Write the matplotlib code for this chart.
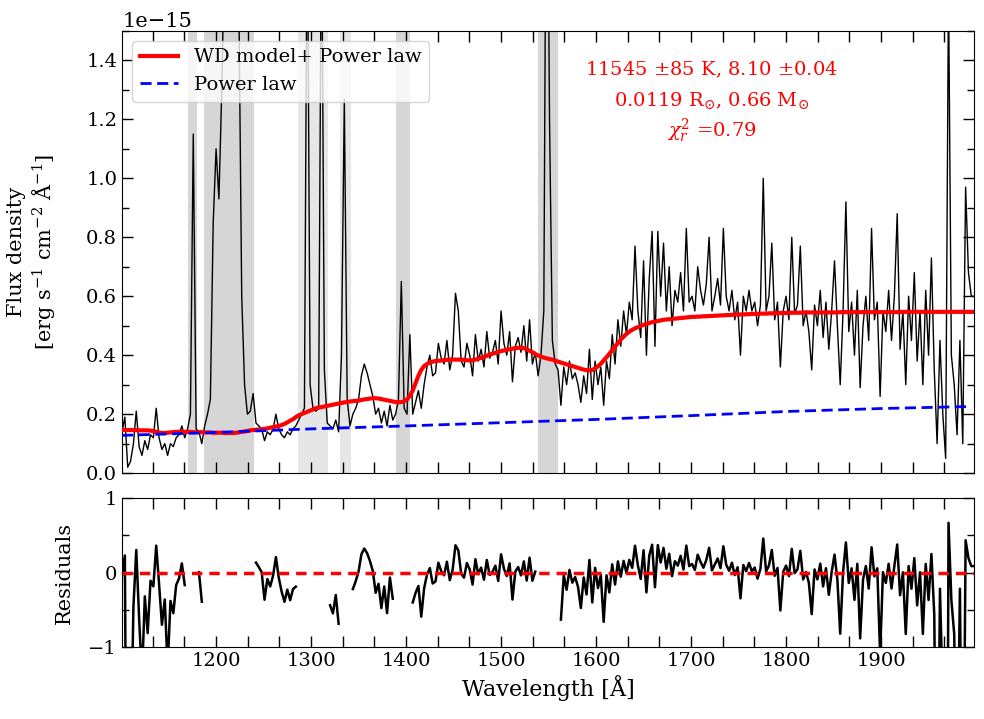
import numpy as np
import matplotlib
matplotlib.use("Agg")
import matplotlib.pyplot as plt
from matplotlib.ticker import MultipleLocator, AutoMinorLocator

plt.rcParams['font.family'] = ['DejaVu Serif']
plt.rcParams['mathtext.fontset'] = 'dejavuserif'

# wavelength grid (Angstrom), 3 A steps from 1101 to 1998
wave = np.arange(1101, 1999, 3)

# observed flux, units of 1e-15 erg/s/cm2/A
flux = [
    0.14, 0.19, 0.02, 0.04, 0.10, 0.21, 0.09, 0.06, 0.11, 0.08,   # 1101-1128
    0.13, 0.12, 0.22, 0.12, 0.08, 0.10, 0.06, 0.10, 0.09, 0.12,   # 1131-1158
    0.13, 0.16, 0.12, 0.15, 0.20, 1.15, 0.15, 0.14, 0.10, 0.16,   # 1161-1188
    0.20, 0.25, 0.85, 1.10, 0.93, 1.30, 1.80, 2.50, 3.00, 2.50,   # 1191-1218
    2.00, 1.60, 0.60, 0.30, 0.20, 0.21, 0.27, 0.17, 0.16, 0.15,   # 1221-1248
    0.11, 0.14, 0.13, 0.15, 0.20, 0.15, 0.13, 0.12, 0.14, 0.13,   # 1251-1278
    0.15, 0.16, 0.18, 0.20, 0.22, 2.00, 0.30, 0.22, 0.21, 0.22,   # 1281-1308
    2.00, 0.35, 0.17, 0.16, 0.15, 0.18, 0.14, 0.40, 1.27, 0.25,   # 1311-1338
    0.16, 0.20, 0.22, 0.25, 0.33, 0.37, 0.34, 0.30, 0.26, 0.20,   # 1341-1368
    0.22, 0.17, 0.21, 0.16, 0.23, 0.18, 0.20, 0.25, 0.65, 0.22,   # 1371-1398
    0.20, 0.47, 0.20, 0.24, 0.28, 0.22, 0.30, 0.36, 0.40, 0.33,   # 1401-1428
    0.34, 0.44, 0.39, 0.37, 0.45, 0.35, 0.40, 0.61, 0.55, 0.38,   # 1431-1458
    0.36, 0.44, 0.40, 0.33, 0.47, 0.38, 0.42, 0.36, 0.48, 0.39,   # 1461-1488
    0.41, 0.45, 0.37, 0.55, 0.44, 0.40, 0.48, 0.31, 0.43, 0.46,   # 1491-1518
    0.41, 0.50, 0.38, 0.52, 0.37, 0.41, 0.33, 0.40, 0.55, 2.50,   # 1521-1548
    1.20, 0.45, 0.37, 0.35, 0.23, 0.36, 0.30, 0.38, 0.32, 0.34,   # 1551-1578
    0.30, 0.24, 0.33, 0.27, 0.42, 0.25, 0.38, 0.30, 0.36, 0.23,   # 1581-1608
    0.38, 0.32, 0.47, 0.37, 0.52, 0.43, 0.55, 0.47, 0.58, 0.52,   # 1611-1638
    0.77, 0.55, 0.46, 0.72, 0.40, 0.66, 0.82, 0.43, 0.82, 0.60,   # 1641-1668
    0.78, 0.55, 0.70, 0.50, 0.62, 0.58, 0.68, 0.55, 0.83, 0.58,   # 1671-1698
    0.60, 0.55, 0.70, 0.62, 0.57, 0.64, 0.80, 0.55, 0.60, 0.66,   # 1701-1728
    0.57, 0.83, 0.60, 0.55, 0.62, 0.52, 0.58, 0.40, 0.60, 0.55,   # 1731-1758
    0.62, 0.55, 0.58, 0.50, 0.57, 1.00, 0.55, 0.60, 0.78, 0.52,   # 1761-1788
    0.58, 0.36, 0.55, 0.60, 0.52, 0.80, 0.54, 0.57, 0.77, 0.50,   # 1791-1818
    0.55, 0.48, 0.35, 0.57, 0.50, 0.62, 0.46, 0.58, 0.42, 0.55,   # 1821-1848
    0.72, 0.50, 0.30, 0.55, 0.92, 0.48, 0.58, 0.40, 0.62, 0.29,   # 1851-1878
    0.50, 0.60, 0.45, 0.83, 0.52, 0.58, 0.26, 0.55, 0.48, 0.62,   # 1881-1908
    0.45, 0.60, 0.88, 0.42, 0.55, 0.30, 0.60, 0.45, 0.68, 0.38,   # 1911-1938
    0.55, 0.30, 0.62, 0.40, 0.73, 0.35, 0.10, 0.45, 0.20, 0.05,   # 1941-1968
    1.66, 0.40, 0.30, 0.13, 0.45, 0.10, 0.97, 0.68, 0.60, 0.60,   # 1971-1998
]

# WD model + power law, same grid, units of 1e-15
model = [
    0.146, 0.146, 0.146, 0.146, 0.146, 0.146, 0.145, 0.145, 0.145, 0.145,
    0.144, 0.142, 0.140, 0.138, 0.136, 0.136, 0.137, 0.138, 0.139, 0.140,
    0.140, 0.140, 0.140, 0.140, 0.140, 0.139, 0.139, 0.139, 0.139, 0.138,
    0.138, 0.138, 0.137, 0.137, 0.137, 0.137, 0.136, 0.136, 0.136, 0.136,
    0.137, 0.138, 0.140, 0.141, 0.143, 0.145, 0.146, 0.147, 0.148, 0.149,
    0.150, 0.152, 0.154, 0.156, 0.158, 0.160, 0.163, 0.167, 0.172, 0.178,
    0.183, 0.190, 0.196, 0.200, 0.204, 0.208, 0.212, 0.216, 0.220, 0.222,
    0.224, 0.226, 0.228, 0.230, 0.232, 0.234, 0.236, 0.238, 0.240, 0.241,
    0.243, 0.244, 0.245, 0.246, 0.248, 0.250, 0.251, 0.253, 0.254, 0.254,
    0.253, 0.251, 0.249, 0.247, 0.245, 0.243, 0.241, 0.240, 0.241, 0.244,
    0.250, 0.262, 0.280, 0.305, 0.330, 0.350, 0.363, 0.370, 0.375, 0.378,
    0.380, 0.381, 0.382, 0.383, 0.384, 0.385, 0.385, 0.385, 0.385, 0.385,
    0.384, 0.383, 0.382, 0.383, 0.385, 0.388, 0.391, 0.394, 0.398, 0.402,
    0.405, 0.408, 0.411, 0.414, 0.416, 0.418, 0.420, 0.422, 0.424, 0.425,
    0.425, 0.424, 0.420, 0.415, 0.410, 0.404, 0.399, 0.395, 0.392, 0.389,
    0.387, 0.385, 0.382, 0.378, 0.375, 0.372, 0.369, 0.366, 0.363, 0.360,
    0.357, 0.354, 0.351, 0.349, 0.348, 0.350, 0.355, 0.362, 0.371, 0.382,
    0.393, 0.405, 0.417, 0.429, 0.441, 0.453, 0.463, 0.472, 0.480, 0.486,
    0.491, 0.495, 0.499, 0.503, 0.506, 0.509, 0.512, 0.514, 0.516, 0.518,
    0.520, 0.521, 0.522, 0.523, 0.524, 0.525, 0.526, 0.527, 0.528, 0.529,
    0.530, 0.530, 0.531, 0.531, 0.532, 0.532, 0.533, 0.533, 0.534, 0.534,
    0.535, 0.535, 0.536, 0.536, 0.537, 0.537, 0.538, 0.538, 0.538, 0.539,
    0.539, 0.540, 0.540, 0.540, 0.541, 0.541, 0.541, 0.542, 0.542, 0.542,
    0.543, 0.543, 0.543, 0.543, 0.544, 0.544, 0.544, 0.544, 0.544, 0.545,
    0.545, 0.545, 0.545, 0.545, 0.545, 0.545, 0.545, 0.545, 0.545, 0.545,
    0.545, 0.545, 0.546, 0.546, 0.546, 0.546, 0.546, 0.546, 0.546, 0.546,
    0.546, 0.546, 0.546, 0.546, 0.546, 0.546, 0.546, 0.546, 0.546, 0.546,
    0.546, 0.546, 0.546, 0.547, 0.547, 0.547, 0.547, 0.547, 0.547, 0.547,
    0.547, 0.547, 0.547, 0.547, 0.547, 0.547, 0.547, 0.547, 0.547, 0.547,
    0.547, 0.547, 0.547, 0.547, 0.547, 0.547, 0.547, 0.547, 0.547, 0.547,
]

# power-law component (units of 1e-15)
pl_wave = [1101, 1200, 1300, 1400, 1500, 1600, 1700, 1800, 1900, 1995]
pl_flux = [0.128, 0.138, 0.150, 0.160, 0.171, 0.182, 0.195, 0.209, 0.219, 0.226]

# masked (shaded) wavelength ranges and their shades
mask_ranges = [(1170, 1180), (1187, 1240), (1286, 1318), (1330, 1342), (1389, 1404), (1539, 1560)]
mask_shades = ['#d6d6d6', '#d6d6d6', '#e6e6e6', '#e6e6e6', '#d6d6d6', '#d6d6d6']

label_lines = ["11545 $\\pm$85 K, 8.10 $\\pm$0.04",
               "0.0119 R$_{\\odot}$, 0.66 M$_{\\odot}$",
               "$\\chi_r^2$ =0.79"]

flux = np.array(flux)
model = np.array(model)
residual = (flux - model) / flux
for lo, hi in mask_ranges:
    residual[(wave >= lo) & (wave <= hi)] = np.nan

fig = plt.figure(figsize=(9.84, 7.19), dpi=100)
ax = fig.add_axes([0.124, 0.342, 0.866, 0.615])
axr = fig.add_axes([0.124, 0.100, 0.866, 0.207], sharex=ax)

for (lo, hi), c in zip(mask_ranges, mask_shades):
    ax.axvspan(lo, hi, color=c, lw=0, zorder=0)

ax.plot(wave, flux * 1e-15, color='black', lw=1.0, zorder=2)
ax.plot(wave, model * 1e-15, color='red', lw=3.0, label='WD model+ Power law', zorder=3)
ax.plot(pl_wave, np.array(pl_flux) * 1e-15, color='blue', lw=2.0, ls='--',
        dashes=(4, 2), label='Power law', zorder=3)

ax.set_ylim(0, 1.5e-15)
ax.set_xlim(1101, 1998)
ax.set_ylabel("Flux density\n[erg s$^{-1}$ cm$^{-2}$ Å$^{-1}$]", fontsize=15)
ax.yaxis.set_label_coords(-0.076, 0.5)
ax.legend(loc='upper left', fontsize=14, framealpha=0.8)
ax.tick_params(labelbottom=False)
ax.yaxis.get_offset_text().set_fontsize(15)

ys = [0.912, 0.842, 0.774]
for txt, yy in zip(label_lines, ys):
    ax.text(0.692, yy, txt, transform=ax.transAxes, color='red', fontsize=14,
            ha='center', va='center')

axr.plot(wave, residual, color='black', lw=1.8)
axr.axhline(0, color='red', ls='--', lw=2.5, dashes=(3, 2))
axr.set_ylim(-1, 1)
axr.set_ylabel("Residuals", fontsize=15)
axr.yaxis.set_label_coords(-0.056, 0.5)
axr.set_xlabel("Wavelength [Å]", fontsize=16)

for a in (ax, axr):
    a.xaxis.set_major_locator(MultipleLocator(100))
    a.xaxis.set_minor_locator(AutoMinorLocator(3))
    a.yaxis.set_minor_locator(AutoMinorLocator(2))
    a.tick_params(which='both', direction='in', top=True, right=True, labelsize=14)
    a.tick_params(which='major', length=8, width=1)
    a.tick_params(axis='y', which='minor', length=5, width=1)
    a.tick_params(axis='x', which='minor', length=8, width=1)
axr.yaxis.set_major_locator(MultipleLocator(1))

fig.savefig("out.png", dpi=100)
